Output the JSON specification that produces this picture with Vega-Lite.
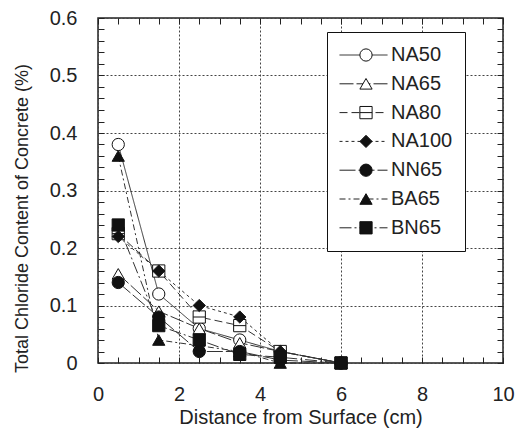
{
  "$schema": "https://vega.github.io/schema/vega-lite/v6.json",
  "width": 405,
  "height": 345,
  "autosize": {"type": "none"},
  "padding": {"left": 98, "top": 18, "right": 13, "bottom": 69},
  "background": "white",
  "config": {"view": {"stroke": "#222", "strokeWidth": 1.5}, "font": "Liberation Sans"},
  "data": {"values": [
    {"series": "NA50", "d": 0.5, "cl": 0.38}, {"series": "NA50", "d": 1.5, "cl": 0.12}, {"series": "NA50", "d": 2.5, "cl": 0.06}, {"series": "NA50", "d": 3.5, "cl": 0.04}, {"series": "NA50", "d": 4.5, "cl": 0.02}, {"series": "NA50", "d": 6, "cl": 0},
    {"series": "NA65", "d": 0.5, "cl": 0.155}, {"series": "NA65", "d": 1.5, "cl": 0.09}, {"series": "NA65", "d": 2.5, "cl": 0.06}, {"series": "NA65", "d": 3.5, "cl": 0.035}, {"series": "NA65", "d": 4.5, "cl": 0.02}, {"series": "NA65", "d": 6, "cl": 0},
    {"series": "NA80", "d": 0.5, "cl": 0.225}, {"series": "NA80", "d": 1.5, "cl": 0.16}, {"series": "NA80", "d": 2.5, "cl": 0.08}, {"series": "NA80", "d": 3.5, "cl": 0.065}, {"series": "NA80", "d": 4.5, "cl": 0.02}, {"series": "NA80", "d": 6, "cl": 0},
    {"series": "NA100", "d": 0.5, "cl": 0.22}, {"series": "NA100", "d": 1.5, "cl": 0.16}, {"series": "NA100", "d": 2.5, "cl": 0.1}, {"series": "NA100", "d": 3.5, "cl": 0.08}, {"series": "NA100", "d": 4.5, "cl": 0.02}, {"series": "NA100", "d": 6, "cl": 0},
    {"series": "NN65", "d": 0.5, "cl": 0.14}, {"series": "NN65", "d": 1.5, "cl": 0.08}, {"series": "NN65", "d": 2.5, "cl": 0.02}, {"series": "NN65", "d": 3.5, "cl": 0.02}, {"series": "NN65", "d": 4.5, "cl": 0.005}, {"series": "NN65", "d": 6, "cl": 0},
    {"series": "BA65", "d": 0.5, "cl": 0.36}, {"series": "BA65", "d": 1.5, "cl": 0.04}, {"series": "BA65", "d": 2.5, "cl": 0.03}, {"series": "BA65", "d": 3.5, "cl": 0.02}, {"series": "BA65", "d": 4.5, "cl": 0}, {"series": "BA65", "d": 6, "cl": 0},
    {"series": "BN65", "d": 0.5, "cl": 0.24}, {"series": "BN65", "d": 1.5, "cl": 0.065}, {"series": "BN65", "d": 2.5, "cl": 0.04}, {"series": "BN65", "d": 3.5, "cl": 0.015}, {"series": "BN65", "d": 4.5, "cl": 0.01}, {"series": "BN65", "d": 6, "cl": 0}
  ]},
  "resolve": {"axis": {"x": "independent", "y": "independent"}},
  "layer": [
    {
      "mark": {"type": "line", "color": "#333", "strokeWidth": 1},
      "encoding": {
        "x": {"field": "d", "type": "quantitative", "scale": {"domain": [0, 10], "nice": false},
          "axis": {"orient": "bottom", "values": [0, 2, 4, 6, 8, 10], "grid": true, "gridDash": [2, 2], "gridColor": "#444", "gridOpacity": 1, "ticks": false, "domain": false, "labelFontSize": 20, "labelPadding": 21, "labelColor": "#222", "labelFlush": false, "labelOverlap": false, "title": "Distance from Surface (cm)", "titleFontSize": 20, "titleFontWeight": "normal", "titleColor": "#222", "titlePadding": 3}},
        "y": {"field": "cl", "type": "quantitative", "scale": {"domain": [0, 0.6], "nice": false},
          "axis": {"orient": "left", "values": [0, 0.1, 0.2, 0.3, 0.4, 0.5, 0.6], "grid": true, "gridDash": [2, 2], "gridColor": "#444", "gridOpacity": 1, "ticks": false, "domain": false, "labelFontSize": 20, "labelPadding": 21, "labelColor": "#222", "labelFlush": false, "labelOverlap": false, "labelExpr": "datum.value == 0 ? '0' : format(datum.value, '.1f')", "title": "Total Chloride Content of Concrete (%)", "titleFontSize": 18, "titleFontWeight": "normal", "titleColor": "#222", "titleX": -76, "titleY": 200, "titleAngle": -90, "titleAlign": "center", "titleBaseline": "middle"}},
        "strokeDash": {"field": "series", "type": "nominal", "sort": ["NA50", "NA65", "NA80", "NA100", "NN65", "BA65", "BN65"],
          "scale": {"range": [[1, 0], [14, 3], [8, 4], [3, 3], [16, 3], [6, 3, 2, 3], [12, 3, 2, 3]]},
          "legend": {"orient": "none", "legendX": 229, "legendY": 14, "title": null, "symbolType": "stroke", "symbolSize": 2304, "symbolStrokeWidth": 1, "symbolStrokeColor": "#222", "clipHeight": 22, "rowPadding": 6.8, "labelFontSize": 20, "labelOffset": 3, "labelColor": "#222", "padding": 12, "strokeColor": "#111", "fillColor": "white", "zindex": 1}}
      }
    },
    {
      "mark": {"type": "point", "filled": true, "stroke": "#111", "strokeWidth": 1, "size": 150, "opacity": 1},
      "encoding": {
        "x": {"field": "d", "type": "quantitative",
          "axis": {"orient": "top", "values": [0, 0.5, 1, 1.5, 2, 2.5, 3, 3.5, 4, 4.5, 5, 5.5, 6, 6.5, 7, 7.5, 8, 8.5, 9, 9.5, 10], "ticks": true, "tickSize": -6, "tickColor": "#222", "labels": false, "domain": false, "grid": false, "title": null}},
        "y": {"field": "cl", "type": "quantitative",
          "axis": {"orient": "right", "values": [0, 0.02, 0.04, 0.06, 0.08, 0.1, 0.12, 0.14, 0.16, 0.18, 0.2, 0.22, 0.24, 0.26, 0.28, 0.3, 0.32, 0.34, 0.36, 0.38, 0.4, 0.42, 0.44, 0.46, 0.48, 0.5, 0.52, 0.54, 0.56, 0.58, 0.6], "ticks": true, "tickSize": -6, "tickColor": "#222", "labels": false, "domain": false, "grid": false, "title": null}},
        "shape": {"field": "series", "type": "nominal",
          "scale": {"domain": ["NA50", "NA65", "NA80", "NA100", "NN65", "BA65", "BN65"], "range": ["circle", "triangle-up", "M-1,-1H1V1H-1ZM-1,0H1", "diamond", "circle", "triangle-up", "square"]},
          "legend": {"orient": "none", "legendX": 258, "legendY": 26, "title": null, "symbolSize": 150, "symbolStrokeWidth": 1, "clipHeight": 22, "rowPadding": 6.8, "labelFontSize": 20, "labelExpr": "''", "padding": 0, "zindex": 2}},
        "fill": {"field": "series", "type": "nominal",
          "scale": {"domain": ["NA50", "NA65", "NA80", "NA100", "NN65", "BA65", "BN65"], "range": ["white", "white", "white", "#111", "#111", "#111", "#111"]},
          "legend": {"orient": "none", "legendX": 258, "legendY": 26, "title": null, "symbolSize": 150, "symbolStrokeWidth": 1, "clipHeight": 22, "rowPadding": 6.8, "labelFontSize": 20, "labelExpr": "''", "padding": 0, "zindex": 2}}
      }
    },
    {
      "mark": {"type": "point", "opacity": 0},
      "encoding": {
        "x": {"field": "d", "type": "quantitative",
          "axis": {"orient": "bottom", "values": [0, 0.5, 1, 1.5, 2, 2.5, 3, 3.5, 4, 4.5, 5, 5.5, 6, 6.5, 7, 7.5, 8, 8.5, 9, 9.5, 10], "ticks": true, "tickSize": -6, "tickColor": "#222", "labels": false, "domain": false, "grid": false, "title": null}},
        "y": {"field": "cl", "type": "quantitative",
          "axis": {"orient": "left", "values": [0, 0.02, 0.04, 0.06, 0.08, 0.1, 0.12, 0.14, 0.16, 0.18, 0.2, 0.22, 0.24, 0.26, 0.28, 0.3, 0.32, 0.34, 0.36, 0.38, 0.4, 0.42, 0.44, 0.46, 0.48, 0.5, 0.52, 0.54, 0.56, 0.58, 0.6], "ticks": true, "tickSize": -6, "tickColor": "#222", "labels": false, "domain": false, "grid": false, "title": null}}
      }
    }
  ]
}
